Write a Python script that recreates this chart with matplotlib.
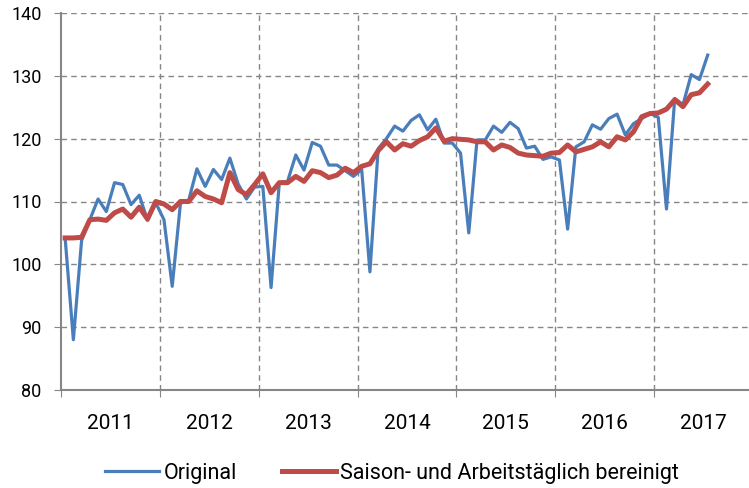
import matplotlib
matplotlib.use("Agg")
import matplotlib.pyplot as plt
import numpy as np

years = ["2011", "2012", "2013", "2014", "2015", "2016", "2017"]

# monthly index values, Jan 2011 - Jul 2017
original = [
    104.2, 88.0, 103.8, 107.1, 110.4, 108.4, 113.0, 112.7, 109.5, 111.0, 107.0, 109.8,
    107.1, 96.5, 109.7, 110.2, 115.2, 112.4, 115.1, 113.5, 116.9, 112.8, 110.4, 112.3,
    112.4, 96.3, 113.0, 113.2, 117.4, 115.0, 119.4, 118.8, 115.8, 115.8, 114.9, 114.0,
    115.1, 98.8, 118.4, 120.0, 122.0, 121.2, 122.9, 123.8, 121.4, 123.1, 119.3, 119.3,
    117.7, 105.0, 119.8, 119.8, 122.0, 121.0, 122.6, 121.6, 118.5, 118.8, 116.7, 117.1,
    116.6, 105.6, 118.7, 119.5, 122.2, 121.5, 123.2, 123.9, 120.6, 122.4, 123.2, 124.0,
    123.4, 108.8, 126.4, 125.4, 130.2, 129.4, 133.3,
]
bereinigt = [
    104.2, 104.2, 104.3, 107.1, 107.2, 107.0, 108.2, 108.8, 107.5, 109.1, 107.2, 110.0,
    109.6, 108.7, 110.0, 110.0, 111.7, 110.8, 110.4, 109.8, 114.6, 111.9, 111.1, 112.7,
    114.4, 111.4, 113.0, 113.0, 114.0, 113.2, 114.9, 114.6, 113.8, 114.2, 115.3, 114.6,
    115.6, 116.0, 118.1, 119.5, 118.2, 119.2, 118.8, 119.7, 120.3, 121.7, 119.6, 120.0,
    119.9, 119.8, 119.5, 119.5, 118.2, 119.0, 118.6, 117.7, 117.4, 117.3, 117.2, 117.7,
    117.8, 119.0, 117.9, 118.3, 118.7, 119.5, 118.7, 120.3, 119.8, 121.1, 123.5, 124.0,
    124.1, 124.7, 126.2, 125.1, 127.0, 127.3, 128.7,
]

grey = "#868686"
plt.rcParams["font.family"] = ["Roboto", "DejaVu Sans"]

fig = plt.figure(figsize=(7.49, 4.88), dpi=100)
ax = fig.add_axes([61 / 749, 98 / 488, 692 / 749, 377 / 488])

x = np.arange(len(original))
ax.plot(x, original, color="#4A7EBB", lw=2.3, label="Original", solid_joinstyle="round", zorder=3)
ax.plot(x, bereinigt, color="#BE4B48", lw=3.6, label="Saison- und Arbeitstäglich bereinigt",
        solid_joinstyle="round", zorder=4)

ax.set_xlim(-0.5, 83.5)
ax.set_ylim(80, 140)

bounds = np.arange(len(years)) * 12 - 0.5
ax.set_xticks(bounds)
ax.set_xticklabels([])
ax.set_xticks(bounds + 6, minor=True)
ax.set_xticklabels(years, minor=True, fontsize=15)
ax.tick_params(axis="x", which="major", length=5, color=grey, direction="out")
ax.tick_params(axis="x", which="minor", length=0, pad=17)

ax.set_yticks(np.arange(80, 141, 10))
ax.set_yticklabels([str(v) for v in range(80, 141, 10)], fontsize=13)
ax.tick_params(axis="y", length=5, color=grey, direction="out", pad=9)

ax.grid(True, which="major", color=grey, linestyle=(0, (4, 3)), lw=1)
for v in bounds[1:]:
    ax.axvline(v, color=grey, linestyle=(0, (4, 3)), lw=1, zorder=1)
ax.xaxis.grid(False)

for s in ["top", "right"]:
    ax.spines[s].set_visible(False)
for s in ["left", "bottom"]:
    ax.spines[s].set_color(grey)
    ax.spines[s].set_linewidth(1.5)

leg = fig.legend(loc="center", bbox_to_anchor=(392 / 749, 1 - 473 / 488), ncol=2, frameon=False,
                 prop=dict(size=15.5), handlelength=2.5, columnspacing=2.1, handletextpad=0.2)

fig.savefig("out.png", dpi=100)
